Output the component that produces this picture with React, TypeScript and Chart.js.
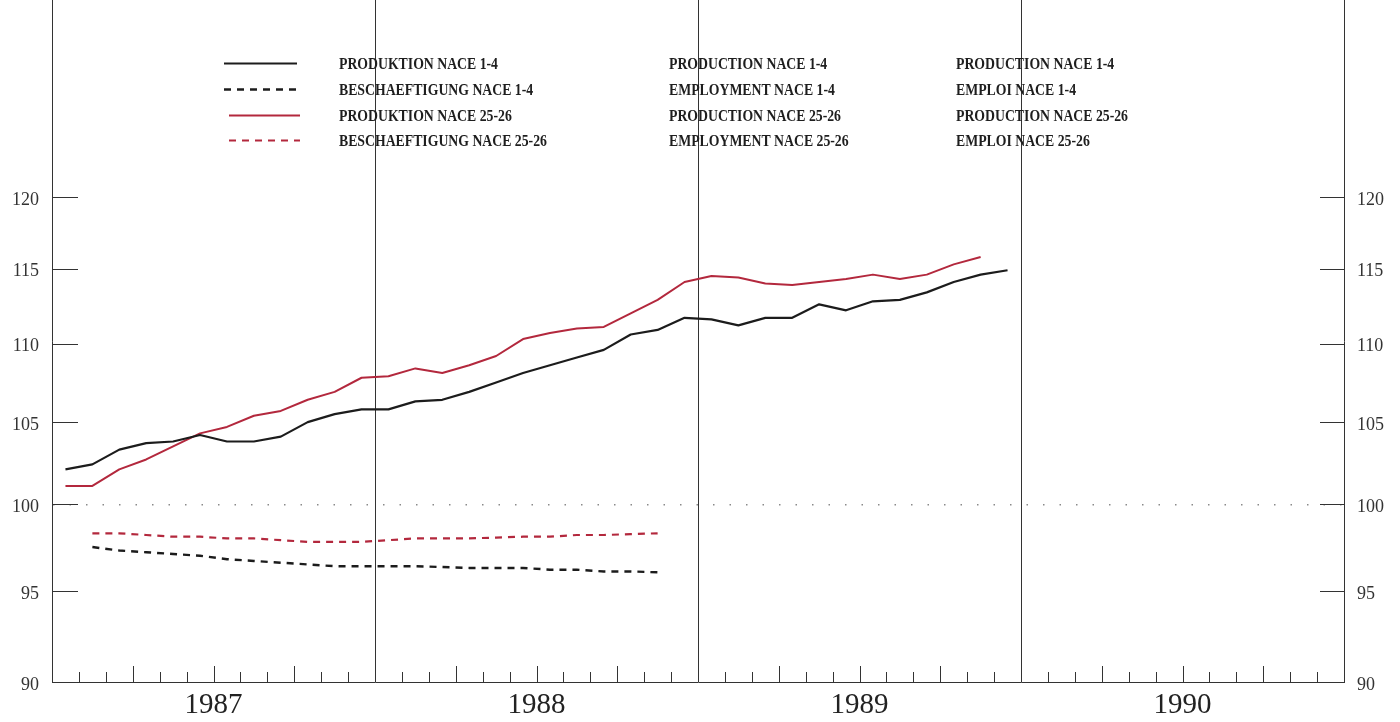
import React, { useEffect, useRef } from "react";
import { Chart, registerables } from "chart.js";

Chart.register(...registerables);

// Months start January 1987; each value sits at the middle of its month.
const monthStart = ["1987-01", "1988-01", "1989-01", "1990-01"];
const yearLabels = ["1987", "1988", "1989", "1990"];
const yTickValues = [90, 95, 100, 105, 110, 115, 120];

const prodNace14 = [
  102.1, 102.4, 103.3, 103.7, 103.8, 104.2, 103.8, 103.8, 104.1, 105.0, 105.5, 105.8,
  105.8, 106.3, 106.4, 106.9, 107.5, 108.1, 108.6, 109.1, 109.6, 110.6, 110.9, 111.7,
  111.6, 111.2, 111.7, 111.7, 112.6, 112.2, 112.8, 112.9, 113.4, 114.1, 114.6, 114.9,
];
const empNace14 = [
  null, 97.5, 97.3, 97.2, 97.1, 97.0, 96.8, 96.7, 96.6, 96.5, 96.4, 96.4,
  96.4, 96.4, 96.35, 96.3, 96.3, 96.3, 96.2, 96.2, 96.1, 96.1, 96.05,
];
const prodNace2526 = [
  101.1, 101.1, 102.1, 102.7, 103.5, 104.3, 104.7, 105.4, 105.7, 106.4, 106.9, 107.8,
  107.9, 108.4, 108.1, 108.6, 109.2, 110.3, 110.7, 111.0, 111.1, 112.0, 112.9, 114.1,
  114.5, 114.4, 114.0, 113.9, 114.1, 114.3, 114.6, 114.3, 114.6, 115.3, 115.8,
];
const empNace2526 = [
  null, 98.3, 98.3, 98.2, 98.1, 98.1, 98.0, 98.0, 97.9, 97.8, 97.8, 97.8,
  97.9, 98.0, 98.0, 98.0, 98.05, 98.1, 98.1, 98.2, 98.2, 98.25, 98.3,
];

const legendDe = [
  "PRODUKTION NACE 1-4",
  "BESCHAEFTIGUNG NACE 1-4",
  "PRODUKTION NACE 25-26",
  "BESCHAEFTIGUNG NACE 25-26",
];
const legendEn = [
  "PRODUCTION NACE 1-4",
  "EMPLOYMENT NACE 1-4",
  "PRODUCTION NACE 25-26",
  "EMPLOYMENT NACE 25-26",
];
const legendFr = [
  "PRODUCTION NACE 1-4",
  "EMPLOI NACE 1-4",
  "PRODUCTION NACE 25-26",
  "EMPLOI NACE 25-26",
];

const BLACK = "#1c1c1c";
const RED = "#b3283d";
const AXIS = "#333333";

const toPoints = (arr: (number | null)[]) =>
  arr.map((v, i) => ({ x: i + 0.5, y: v }));

const decorPlugin = {
  id: "decor",
  beforeDraw(chart: any) {
    const { ctx, width, height } = chart;
    ctx.save();
    ctx.fillStyle = "#ffffff";
    ctx.fillRect(0, 0, width, height);
    ctx.restore();
  },
  afterDraw(chart: any) {
    const { ctx, chartArea, scales } = chart;
    const xs = scales.x;
    const ys = scales.y;
    ctx.save();
    ctx.strokeStyle = AXIS;
    ctx.lineWidth = 1;
    // inward month ticks on the bottom axis
    const nMonths = monthStart.length * 12;
    for (let m = 1; m < nMonths; m++) {
      if (m % 12 === 0) continue;
      const px = Math.round(xs.getPixelForValue(m)) + 0.5;
      const len = m % 3 === 0 ? 16 : 10;
      ctx.beginPath();
      ctx.moveTo(px, chartArea.bottom);
      ctx.lineTo(px, chartArea.bottom - len);
      ctx.stroke();
    }
    // inward value ticks on both vertical axes
    for (const v of yTickValues) {
      const py = Math.round(ys.getPixelForValue(v)) + 0.5;
      ctx.beginPath();
      ctx.moveTo(chartArea.left, py);
      ctx.lineTo(chartArea.left + 26, py);
      ctx.moveTo(chartArea.right, py);
      ctx.lineTo(chartArea.right - 24, py);
      ctx.stroke();
    }

    // legend
    const ds = chart.data.datasets;
    const rowsY = [63, 89, 115, 140];
    const sampleX = [
      [224, 297],
      [224, 297],
      [229, 300],
      [229, 300],
    ];
    for (let i = 0; i < 4; i++) {
      const d = ds[i];
      ctx.save();
      ctx.strokeStyle = d.borderColor;
      ctx.lineWidth = d.borderWidth;
      ctx.setLineDash(d.borderDash || []);
      ctx.beginPath();
      ctx.moveTo(sampleX[i][0], rowsY[i] + 0.5);
      ctx.lineTo(sampleX[i][1], rowsY[i] + 0.5);
      ctx.stroke();
      ctx.restore();
    }
    ctx.font = "bold 16px 'Liberation Serif', serif";
    ctx.fillStyle = "#1e1e1e";
    ctx.textBaseline = "alphabetic";
    ctx.textAlign = "left";
    const sx = 159 / ctx.measureText(legendDe[0]).width;
    const cols: [number, string[]][] = [
      [339, legendDe],
      [669, legendEn],
      [956, legendFr],
    ];
    for (const [cx, texts] of cols) {
      texts.forEach((t, i) => {
        ctx.save();
        ctx.translate(cx, rowsY[i] + 6);
        ctx.scale(sx, 1);
        ctx.fillText(t, 0, 0);
        ctx.restore();
      });
    }
    ctx.restore();
  },
};

const yMax = 90 * Math.pow(120 / 90, 682 / 485);

export default function App() {
  const canvasRef = useRef<HTMLCanvasElement | null>(null);

  useEffect(() => {
    const canvas = canvasRef.current;
    if (!canvas) return;
    const nMonths = monthStart.length * 12;

    const setTicks = (scale: any) => {
      scale.ticks = yTickValues.map((v) => ({ value: v }));
    };

    const chart = new Chart(canvas, {
      type: "line",
      data: {
        datasets: [
          {
            label: legendDe[0],
            data: toPoints(prodNace14) as any,
            borderColor: BLACK,
            borderWidth: 2.2,
            borderDash: [],
            pointRadius: 0,
            tension: 0,
            borderJoinStyle: "round",
          },
          {
            label: legendDe[1],
            data: toPoints(empNace14) as any,
            borderColor: BLACK,
            borderWidth: 2.4,
            borderDash: [7, 6],
            pointRadius: 0,
            tension: 0,
          },
          {
            label: legendDe[2],
            data: toPoints(prodNace2526) as any,
            borderColor: RED,
            borderWidth: 2,
            borderDash: [],
            pointRadius: 0,
            tension: 0,
            borderJoinStyle: "round",
          },
          {
            label: legendDe[3],
            data: toPoints(empNace2526) as any,
            borderColor: RED,
            borderWidth: 2.2,
            borderDash: [7, 6],
            pointRadius: 0,
            tension: 0,
          },
        ],
      },
      options: {
        animation: false,
        responsive: false,
        maintainAspectRatio: false,
        devicePixelRatio: 1,
        layout: { padding: 0 },
        plugins: {
          legend: { display: false },
          tooltip: { enabled: false },
        },
        scales: {
          x: {
            type: "linear",
            position: "bottom",
            min: 0,
            max: nMonths,
            afterBuildTicks: (scale: any) => {
              const t = [];
              for (let m = 0; m <= nMonths; m++) t.push({ value: m });
              scale.ticks = t;
            },
            afterFit: (scale: any) => {
              scale.height = 40;
              scale.paddingLeft = 0;
              scale.paddingRight = 0;
            },
            ticks: {
              autoSkip: false,
              maxRotation: 0,
              minRotation: 0,
              padding: 6,
              color: "#222",
              font: { family: "'Liberation Serif', serif", size: 29 },
              callback: (value: any) => {
                const v = Number(value);
                if ((v - 6) % 12 === 0) return yearLabels[(v - 6) / 12];
                return "";
              },
            },
            grid: {
              drawTicks: false,
              lineWidth: 1,
              color: (c: any) => {
                const v = c.tick ? c.tick.value : -1;
                return v > 0 && v < nMonths && v % 12 === 0 ? AXIS : "rgba(0,0,0,0)";
              },
            },
            border: { display: true, color: AXIS, width: 1 },
          },
          y: {
            type: "logarithmic",
            position: "left",
            min: 90,
            max: yMax,
            afterBuildTicks: setTicks,
            afterFit: (scale: any) => {
              scale.width = 52;
              scale.paddingTop = 0;
              scale.paddingBottom = 0;
            },
            ticks: {
              padding: 13,
              labelOffset: 3,
              color: "#333",
              font: { family: "'Liberation Serif', serif", size: 18 },
              callback: (value: any) => String(value),
            },
            grid: {
              drawTicks: false,
              lineWidth: 1.4,
              color: (c: any) =>
                c.tick && c.tick.value === 100 ? "#8a8a8a" : "rgba(0,0,0,0)",
            },
            border: { display: true, color: AXIS, width: 1, dash: [1.5, 15] },
          },
          y2: {
            type: "logarithmic",
            position: "right",
            min: 90,
            max: yMax,
            afterBuildTicks: setTicks,
            afterFit: (scale: any) => {
              scale.width = 56;
              scale.paddingTop = 0;
              scale.paddingBottom = 0;
            },
            ticks: {
              padding: 13,
              labelOffset: 3,
              color: "#333",
              font: { family: "'Liberation Serif', serif", size: 18 },
              callback: (value: any) => String(value),
            },
            grid: { drawOnChartArea: false, drawTicks: false },
            border: { display: true, color: AXIS, width: 1 },
          },
        },
      },
      plugins: [decorPlugin],
    });

    return () => {
      chart.destroy();
    };
  }, []);

  return (
    <div style={{ position: "fixed", left: 0, top: 0, width: 1400, height: 722, background: "#fff" }}>
      <canvas ref={canvasRef} width={1400} height={722} style={{ display: "block" }} />
    </div>
  );
}
